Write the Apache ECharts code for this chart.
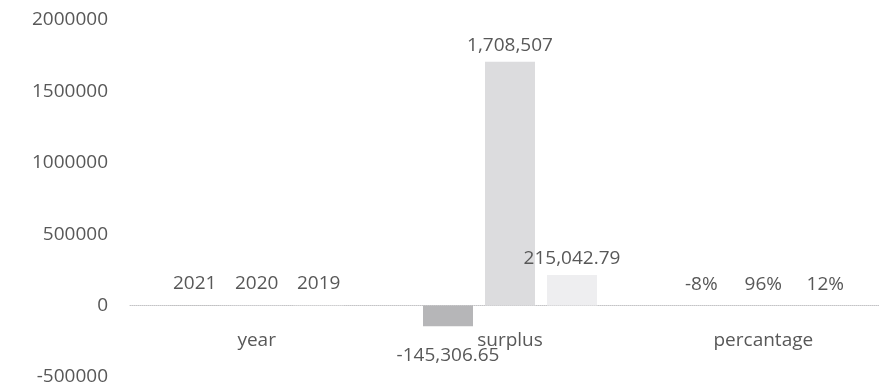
<!DOCTYPE html>
<html>
<head>
<meta charset="utf-8">
<script src="https://cdn.jsdelivr.net/npm/echarts@6/dist/echarts.min.js"></script>
<style>
  html, body { margin: 0; padding: 0; background: #ffffff; }
  #chart { width: 879px; height: 384px; }
</style>
</head>
<body>
<div id="chart"></div>
<script>
// Categories along the x axis
const categories = ['year', 'surplus', 'percantage'];

// One column per year block: year, surplus, percentage (as fraction)
const series2021 = [2021, -145306.65, -0.08];
const series2020 = [2020, 1708507, 0.96];
const series2019 = [2019, 215042.79, 0.12];

// Value axis ticks
const yMin = -500000;
const yMax = 2000000;
const yStep = 500000;

const gridTop = 20;
const gridHeight = 357;
// lift the category axis from the grid bottom up to the zero line
const zeroOffset = -gridHeight * (0 - yMin) / (yMax - yMin);

const barColors = ['#b6b6b8', '#dcdcde', '#eeeef0'];
const textColor = '#585858';
const font = '"Open Sans", "Liberation Sans", sans-serif';

function formatLabel(value, catIndex) {
  if (catIndex === 0) return String(value);
  if (catIndex === 2) return Math.round(value * 100) + '%';
  return value.toLocaleString('en-US', { maximumFractionDigits: 2 });
}

function buildData(values) {
  return values.map((v, i) => {
    // percentage values are tiny against this scale, keep their labels above the axis
    const position = i === 2 ? 'top' : 'outside';
    let distance = 7;
    if (i === 0 || i === 2) distance = 12;
    if (v < 0 && i === 1) distance = 20;
    return {
      value: v,
      label: { position: position, distance: distance }
    };
  });
}

function makeSeries(name, values, color) {
  return {
    name: name,
    type: 'bar',
    barWidth: 50,
    barGap: '24%',
    data: buildData(values),
    itemStyle: { color: color },
    label: {
      show: true,
      color: textColor,
      fontFamily: font,
      fontSize: 19,
      formatter: p => formatLabel(p.value, p.dataIndex)
    },
    animation: false
  };
}

const chart = echarts.init(document.getElementById('chart'));
chart.setOption({
  backgroundColor: '#ffffff',
  animation: false,
  grid: { left: 130, top: gridTop, width: 760, height: gridHeight, outerBoundsMode: 'none', containLabel: false },
  xAxis: {
    type: 'category',
    data: categories,
    position: 'bottom',
    offset: zeroOffset,
    axisTick: { show: false },
    axisLine: { show: true, onZero: false, lineStyle: { color: '#c4c4c6', type: 'dotted', width: 1 } },
    axisLabel: { color: textColor, fontFamily: font, fontSize: 19, margin: 25 }
  },
  yAxis: {
    type: 'value',
    min: yMin,
    max: yMax,
    interval: yStep,
    splitLine: { show: false },
    axisLine: { show: false },
    axisTick: { show: false },
    axisLabel: {
      color: textColor,
      fontFamily: font,
      fontSize: 19,
      margin: 22,
      formatter: v => String(v)
    }
  },
  series: [
    makeSeries('2021', series2021, barColors[0]),
    makeSeries('2020', series2020, barColors[1]),
    makeSeries('2019', series2019, barColors[2])
  ]
});
</script>
</body>
</html>
